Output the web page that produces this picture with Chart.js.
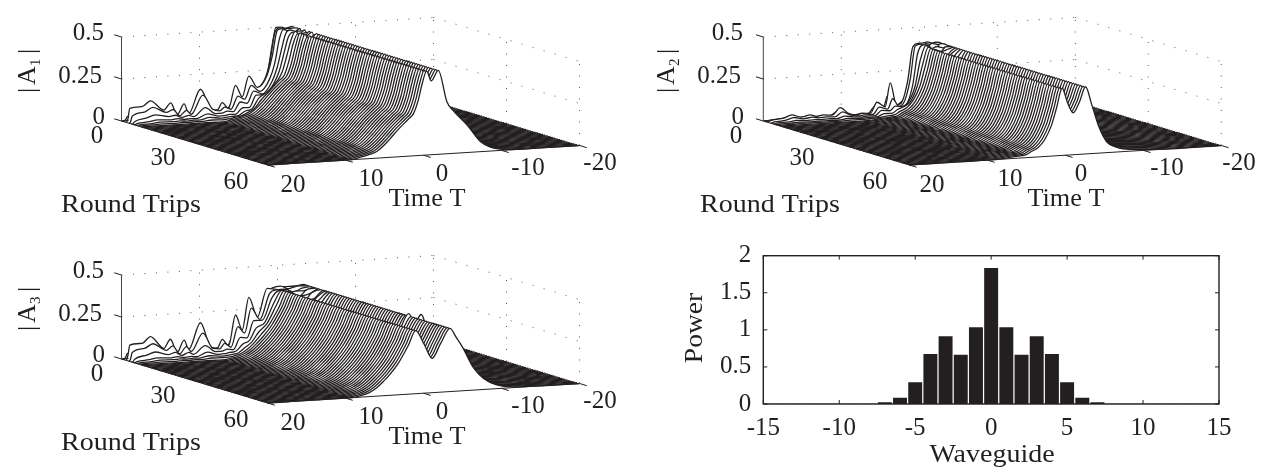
<!DOCTYPE html>
<html>
<head>
<meta charset="utf-8">
<title>Round trips and waveguide power</title>
<script src="https://cdn.jsdelivr.net/npm/chart.js@4"></script>
<style>
    html, body { margin: 0; padding: 0; background: #fff; overflow: hidden; }
    canvas { position: absolute; }
</style>
</head>
<body>
<canvas id="panel-a1" width="632" height="238" style="left:0;top:0"></canvas>
<canvas id="panel-a2" width="626" height="238" style="left:639px;top:0"></canvas>
<canvas id="panel-a3" width="632" height="230" style="left:0;top:238px"></canvas>
<canvas id="panel-power" width="595" height="233" style="left:670px;top:235px"></canvas>
<script>
// Axis ticks
const roundTicks = [0, 30, 60];
const timeTicks = [20, 10, 0, -10, -20];
const ampTicks = [0, 0.25, 0.5];

// |A1|: time samples, the first round trips one by one, then the settled pulse.
// ridge rows hold the three samples around the central dip for the early round trips
const timeA1 = [20, 19.8, 19.56, 18, 16.9, 15.2, 14.3, 13.5, 12.6, 12, 10.5, 9.2, 8.35, 7.7, 6.9, 6, 5.15, 4.3, 3.2, 1.95, 1.3, .67, .2,
    -.4, -1, -1.9, -3, -3.9, -5.6, -7.3, -8.5, -10.8, -15, -20];
const earlyA1 = [
    [0, 0, .003, .003, .004, .003, .004, .003, .003, .003, .005, .004, .004, .005, .005, .01, .01, .03, .06, .12, .22, .40, .5],
    [0, .01, .03, .04, .05, .03, .04, .02, .03, .02, .06, .03, .03, .04, .03, .08, .07, .13, .14, .2, .3, .47, .5],
    [0, .02, .083, .088, .119, .06, .10, .026, .089, .03, .17, .053, .04, .082, .046, .18, .11, .23, .16, .23, .34, .49, .5],
    [0, .005, .04, .06, .085, .05, .065, .025, .055, .03, .14, .05, .04, .06, .045, .12, .10, .18, .14, .21, .30, .45, .5],
    [0, 0, .012, .03, .045, .03, .035, .02, .03, .02, .07, .03, .03, .04, .035, .09, .08, .15, .13, .20, .28, .40, .48],
    [0, 0, .005, .012, .02, .015, .02, .012, .015, .012, .037, .02, .02, .025, .025, .06, .06, .13, .13, .20, .27, .38, .46],
    [0, 0, .002, .005, .01, .008, .01, .007, .01, .008, .02, .012, .015, .018, .02, .045, .055, .115, .15, .21, .26, .36, .44],
    [0, 0, 0, .002, .004, .003, .005, .004, .005, .004, .009, .006, .01, .016, .022, .04, .06, .11, .16, .22, .25, .34, .43]
];
const settledA1 = [0, 0, 0, 0, 0, 0, 0, 0, 0, 0, 0, 0, .009, .015, .025, .04, .07, .11, .165, .22, .25, .33, .42];
const tailA1 = [.5, .44, .5, .31, .25, .164, .06, .025, .002, 0, 0];
const ridgeA1 = [[.5, .49, .5], [.5, .49, .49], [.5, .5, .5], [.49, .47, .5], [.5, .49, .49], [.49, .46, .5], [.5, .48, .49],
    [.49, .45, .5], [.5, .47, .5], [.5, .44, .49], [.5, .46, .5], [.49, .44, .5], [.5, .45, .5], [.5, .44, .5]];

// |A2|
const timeA2 = [20, 19.8, 19.5, 18, 16.95, 15.8, 14.6, 13.8, 12.9, 11.8, 10.75, 9.7, 8.6, 8, 6.9, 6.05, 5, 4.35, 3.5, 2.65, 1.8, 1.15, .4,
    -.3, -1, -1.8, -2.6, -3.4, -4.3, -5.3, -6.6, -8.3, -11, -20];
const earlyA2 = [
    [0, 0, .001, .002, .004, .002, .003, .002, .003, .002, .005, .003, .002, .003, .003, .008, .01, .02, .03, .05, .10, .25, .40],
    [0, .003, .006, .012, .02, .012, .018, .01, .014, .012, .035, .015, .008, .012, .01, .05, .03, .11, .05, .06, .19, .39, .41],
    [0, .008, .012, .02, .036, .02, .029, .018, .024, .02, .061, .025, .011, .02, .016, .08, .05, .19, .046, .064, .2, .40, .41],
    [0, .002, .006, .012, .025, .014, .02, .014, .017, .014, .04, .018, .01, .015, .014, .055, .04, .10, .05, .06, .17, .36, .41],
    [0, 0, .003, .006, .012, .008, .01, .008, .01, .008, .02, .012, .008, .012, .012, .04, .035, .06, .055, .08, .17, .32, .41],
    [0, 0, .001, .003, .006, .004, .005, .004, .005, .004, .01, .007, .006, .009, .01, .025, .025, .045, .06, .09, .18, .30, .405],
    [0, 0, 0, .001, .003, .002, .003, .002, .003, .002, .005, .004, .004, .007, .009, .015, .02, .038, .057, .10, .18, .29, .40]
];
const settledA2 = [0, 0, 0, 0, 0, 0, 0, 0, 0, 0, 0, 0, .001, .003, .009, .012, .018, .035, .055, .10, .18, .28, .40];
const tailA2 = [.31, .25, .31, .40, .29, .158, .065, .028, .011, .002, 0];
const ridgeA2 = [[.40, .41, .40], [.41, .40, .41], [.39, .41, .40], [.40, .37, .41], [.39, .40, .39], [.38, .36, .40], [.39, .38, .39],
    [.36, .33, .38], [.37, .35, .38], [.35, .31, .37], [.35, .32, .36], [.33, .28, .34], [.33, .29, .34], [.32, .27, .32], [.31, .26, .32]];

// |A3|
const timeA3 = [20, 19.8, 19.56, 18, 16.9, 15.2, 14.35, 13.5, 12.6, 12, 10.5, 9.2, 8.35, 7.7, 6.9, 6, 5.15, 4.3, 3.2, 1.95, 1,
    -.1, -1.1, -2.2, -3.4, -4.2, -5, -6.45, -7.7, -9.4, -11.5, -15, -20];
const earlyA3 = [
    [0, 0, .003, .003, .004, .003, .004, .003, .003, .003, .005, .004, .004, .005, .005, .015, .02, .05, .08, .22, .36],
    [0, .012, .035, .045, .06, .03, .045, .02, .04, .025, .08, .03, .03, .04, .03, .1, .08, .16, .14, .33, .37],
    [0, .03, .09, .096, .133, .058, .11, .027, .10, .043, .197, .05, .039, .09, .048, .23, .14, .33, .21, .377, .37],
    [0, .008, .05, .07, .095, .05, .075, .025, .065, .035, .14, .045, .04, .07, .045, .165, .125, .27, .20, .35, .37],
    [0, 0, .015, .035, .05, .03, .04, .02, .035, .022, .07, .03, .03, .04, .035, .105, .10, .20, .20, .33, .37],
    [0, 0, .005, .012, .02, .015, .02, .012, .016, .012, .035, .018, .02, .025, .03, .07, .09, .16, .19, .31, .375],
    [0, 0, .002, .005, .01, .008, .01, .007, .01, .008, .018, .012, .014, .018, .024, .055, .085, .14, .19, .30, .376],
    [0, 0, 0, .002, .004, .003, .005, .004, .005, .004, .009, .007, .009, .014, .024, .05, .085, .13, .19, .29, .376]
];
const settledA3 = [0, 0, 0, 0, 0, 0, 0, 0, 0, 0, 0, 0, .006, .012, .025, .05, .085, .125, .19, .29, .376];
const tailA3 = [.29, .205, .29, .376, .32, .26, .13, .066, .022, .005, 0, 0];
const ridgeA3 = [[.37, .37, .37], [.38, .36, .37], [.36, .37, .38], [.37, .35, .37], [.35, .36, .36], [.36, .33, .37], [.34, .34, .35],
    [.35, .31, .36], [.33, .32, .33], [.34, .28, .34], [.32, .29, .33], [.32, .26, .32], [.31, .26, .31], [.31, .24, .30], [.30, .22, .30]];
// one round trip pokes two small arches above the ridge
const oddRoundA3 = 43;
const oddTailA3 = [.39, .335, .38, .13, .066, .022, .005, 0, 0];

// Power per waveguide
const waveguides = [-15, -14, -13, -12, -11, -10, -9, -8, -7, -6, -5, -4, -3, -2, -1, 0, 1, 2, 3, 4, 5, 6, 7, 8, 9, 10, 11, 12, 13, 14, 15];
const power = [0, 0, 0, 0, 0, 0, 0, 0, .02, .08, .29, .67, .91, .66, 1.03, 1.83, 1.03, .66, .91, .67, .29, .08, .02, 0, 0, 0, 0, 0, 0, 0, 0];

const ink = '#231f20';
const serif = '"Liberation Serif", serif';

function drawText(ctx, text, x, y, widen = 1, size = 25, align = 'center') {
    ctx.save();
    ctx.translate(x, y);
    ctx.scale(widen, 1);
    ctx.font = `${size}px ${serif}`;
    ctx.fillStyle = ink;
    ctx.textAlign = align;
    ctx.textBaseline = 'middle';
    ctx.fillText(text, 0, 0);
    ctx.restore();
}

// |A_n| written sideways, reading bottom to top
function drawAmpTitle(ctx, n) {
    ctx.save();
    ctx.translate(35, 93);
    ctx.rotate(-Math.PI / 2);
    ctx.fillStyle = ink;
    ctx.textBaseline = 'alphabetic';
    ctx.font = `26px ${serif}`;
    ctx.fillText('|', 0, 0);
    ctx.fillText('A', 8, 0);
    ctx.fillText('|', 39, 0);
    ctx.font = `15px ${serif}`;
    ctx.fillText(n, 27, 5);
    ctx.restore();
}

function waterfall(id, n, originX, times, early, settled, tail, ridge, odd) {
    // oblique view: time runs right, round trips run toward the viewer
    const origin = { x: originX, y: 121 };
    const project = (t, r, a) => ({
        x: origin.x + 7.8 * (20 - t) + 2.433 * r,
        y: origin.y - 0.4875 * (20 - t) + 0.733 * r - 168 * a
    });
    const stroke = (points, extra) => ({
        data: points.map(p => project(p[0], p[1], p[2])),
        borderColor: ink,
        borderWidth: 1,
        pointRadius: 0,
        fill: false,
        ...extra
    });

    const axes = [
        stroke([[20, 0, 0], [20, 0, 0.5]], { borderColor: '#444' }),
        stroke([[20, 60, 0], [-20, 60, 0]]),
        stroke([[20, 0, 0], [20, 60, 0]])
    ];
    ampTicks.forEach(a => axes.push(stroke([[20, 0, a], [20, -3, a]])));
    timeTicks.forEach(t => axes.push(stroke([[t, 60, 0], [t, 63, 0]])));
    roundTicks.forEach(r => axes.push(stroke([[20, r, 0], [19.1, r, 0]])));

    // front row first, so the back rows get painted first
    const rows = [];
    for (let r = 60; r >= 0; r--) {
        const head = r < early.length ? early[r] : settled;
        const end = odd && r === odd.round ? odd.tail : tail.slice(3);
        const values = head.concat(r < ridge.length ? ridge[r] : tail.slice(0, 3), end);
        rows.push({
            data: values.map((a, i) => project(times[i], r, a)),
            borderColor: ink,
            borderWidth: 1.3,
            backgroundColor: '#fff',
            pointRadius: 0,
            fill: 'shape',
            cubicInterpolationMode: 'monotone'
        });
    }

    const dots = { borderColor: '#555', borderDash: [1, 10.5], borderWidth: 1 };
    const grid = [];
    ampTicks.slice(1).forEach(a => {
        grid.push(stroke([[20, 0, a], [-20, 0, a]], dots));
        grid.push(stroke([[-20, 0, a], [-20, 60, a]], dots));
    });
    timeTicks.slice(1).forEach(t => grid.push(stroke([[t, 0, 0], [t, 0, 0.5]], dots)));
    roundTicks.slice(1).forEach(r => grid.push(stroke([[-20, r, 0], [-20, r, 0.5]], dots)));

    const labels = {
        id: 'labels',
        afterDraw(chart) {
            const ctx = chart.ctx;
            drawAmpTitle(ctx, String(n));
            const ampY = [117, 76, 33];
            ampTicks.forEach((a, i) => drawText(ctx, String(a), i === 0 ? 105 : (i === 1 ? 102 : 104), ampY[i], 1, 25, 'right'));
            const roundPos = [[97, 136], [163, 158], [236, 182]];
            roundTicks.forEach((r, i) => drawText(ctx, String(r), roundPos[i][0], roundPos[i][1]));
            const timePos = [[293, 185], [371, 179], [442, 174], [528, 168], [600, 163]];
            timeTicks.forEach((t, i) => drawText(ctx, String(t), timePos[i][0], timePos[i][1]));
            drawText(ctx, 'Round Trips', 131, 205, 1.12);
            drawText(ctx, 'Time T', 427, 199, 1.05);
        }
    };

    const canvas = document.getElementById(id);
    return new Chart(canvas, {
        type: 'scatter',
        data: { datasets: [...axes, ...rows, ...grid] },
        options: {
            responsive: false,
            animation: false,
            showLine: true,
            layout: { padding: 0 },
            plugins: { legend: { display: false }, tooltip: { enabled: false } },
            scales: {
                x: { type: 'linear', display: false, min: 0, max: canvas.width },
                y: { type: 'linear', display: false, min: 0, max: canvas.height, reverse: true }
            }
        },
        plugins: [labels]
    });
}

waterfall('panel-a1', 1, 121.5, timeA1, earlyA1, settledA1, tailA1, ridgeA1);
waterfall('panel-a2', 2, 124.3, timeA2, earlyA2, settledA2, tailA2, ridgeA2);
waterfall('panel-a3', 3, 121.5, timeA3, earlyA3, settledA3, tailA3, ridgeA3, { round: oddRoundA3, tail: oddTailA3 });

// Box with inward ticks on all four sides, plus the titles
const powerFrame = {
    id: 'powerFrame',
    afterDatasetsDraw(chart) {
        const { ctx, chartArea: a, scales: { x, y } } = chart;
        ctx.save();
        ctx.strokeStyle = ink;
        ctx.lineWidth = 1.4;
        ctx.strokeRect(a.left, a.top, a.right - a.left, a.bottom - a.top);
        ctx.lineWidth = 1;
        ctx.beginPath();
        waveguides.filter(w => w % 5 === 0).forEach(w => {
            const px = x.getPixelForValue(waveguides.indexOf(w));
            ctx.moveTo(px, a.top); ctx.lineTo(px, a.top + 4);
            ctx.moveTo(px, a.bottom); ctx.lineTo(px, a.bottom - 4);
        });
        y.ticks.forEach(t => {
            const py = y.getPixelForValue(t.value);
            ctx.moveTo(a.left, py); ctx.lineTo(a.left + 4, py);
            ctx.moveTo(a.right, py); ctx.lineTo(a.right - 4, py);
        });
        ctx.stroke();
        ctx.restore();
    },
    afterDraw(chart) {
        const ctx = chart.ctx;
        drawText(ctx, 'Waveguide', 322, 220, 1.12);
        ctx.save();
        ctx.translate(25, 93);
        ctx.rotate(-Math.PI / 2);
        drawText(ctx, 'Power', 0, 0, 1.1);
        ctx.restore();
    }
};

new Chart(document.getElementById('panel-power'), {
    type: 'bar',
    data: {
        labels: waveguides.map(String),
        datasets: [{ data: power, backgroundColor: ink, barThickness: 13.3 }]
    },
    options: {
        responsive: false,
        animation: false,
        layout: { padding: { left: 0, right: 46, top: 20.7, bottom: 0 } },
        plugins: { legend: { display: false }, tooltip: { enabled: false } },
        scales: {
            x: {
                offset: false,
                grid: { display: false },
                border: { display: false },
                afterFit: s => { s.height = 64; },
                ticks: {
                    autoSkip: false,
                    maxRotation: 0,
                    padding: 1,
                    color: ink,
                    font: { family: serif, size: 25 },
                    callback(v) { return waveguides[v] % 5 === 0 ? String(waveguides[v]) : null; }
                }
            },
            y: {
                min: 0,
                max: 2,
                grid: { display: false },
                border: { display: false },
                afterFit: s => { s.width = 93.3; },
                ticks: {
                    stepSize: 0.5,
                    padding: 4,
                    color: ink,
                    font: { family: serif, size: 25 },
                    callback(v) { return String(v); }
                }
            }
        }
    },
    plugins: [powerFrame]
});
</script>
</body>
</html>
